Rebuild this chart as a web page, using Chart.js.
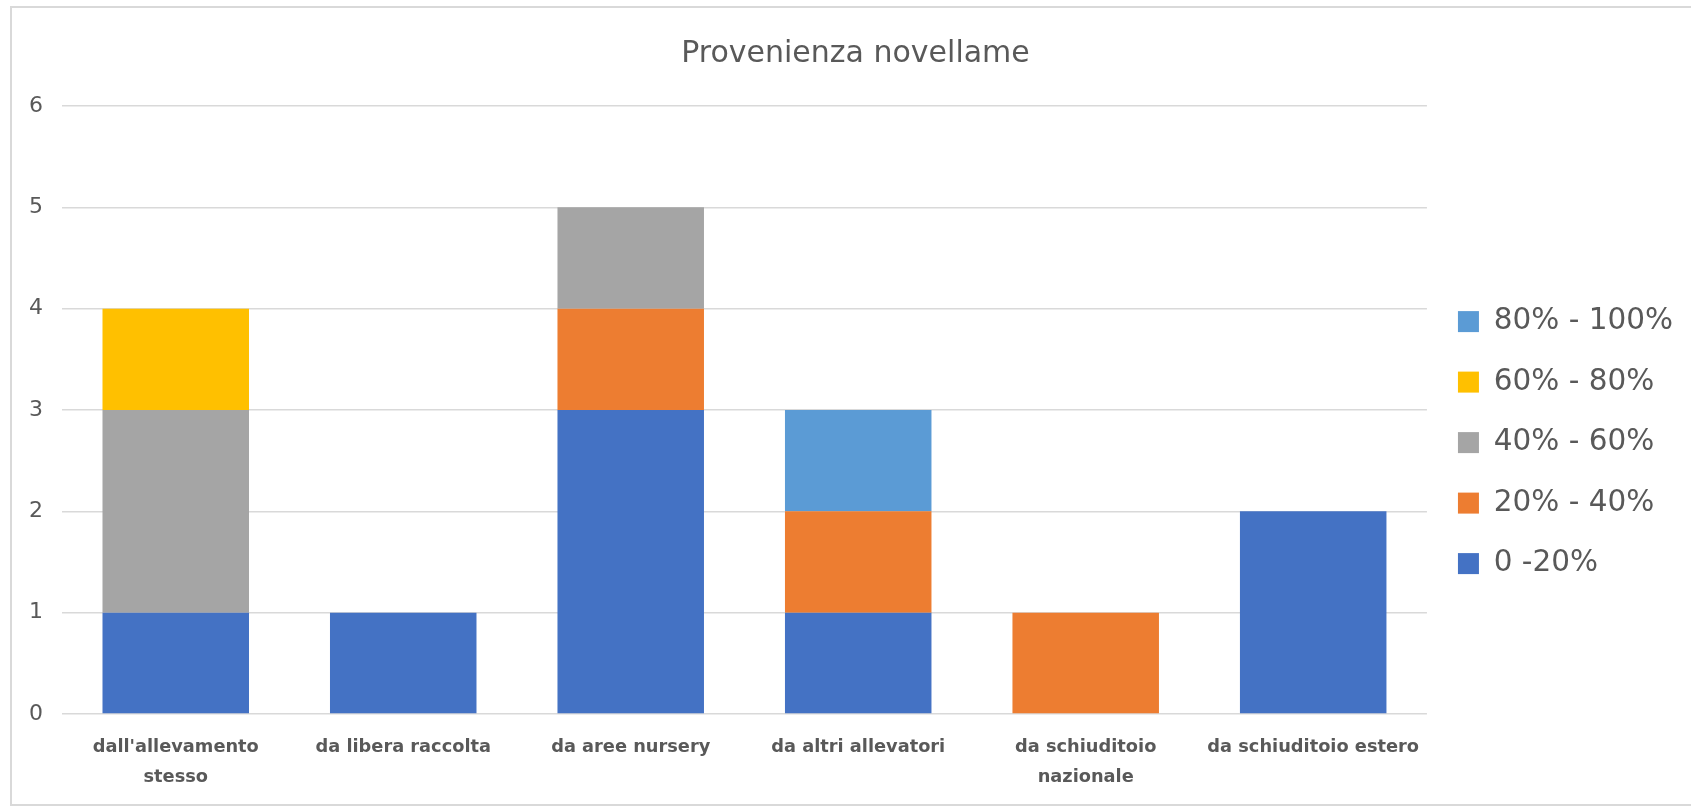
<!DOCTYPE html>
<html>
<head>
<meta charset="utf-8">
<script src="https://cdn.jsdelivr.net/npm/chart.js@4/dist/chart.umd.min.js"></script>
<style>
  html, body { margin: 0; padding: 0; background: #fff; overflow: hidden; }
  #frame {
    position: absolute; left: 10px; top: 6px; width: 1681px; height: 800px;
    border: 2px solid #d9d9d9; border-right: none; box-sizing: border-box;
  }
  #wrap { position: absolute; left: 0; top: 0; width: 1691px; height: 807px; }
</style>
</head>
<body>
<div id="frame"></div>
<div id="wrap"><canvas id="novChart"></canvas></div>
<script>
// categorie (asse x)
const categories = [
  ["dall'allevamento", "stesso"],
  "da libera raccolta",
  "da aree nursery",
  "da altri allevatori",
  ["da schiuditoio", "nazionale"],
  "da schiuditoio estero"
];

// serie (fasce percentuali)
const serie0_20 = [1, 1, 3, 1, 0, 2];
const serie20_40 = [0, 0, 1, 1, 1, 0];
const serie40_60 = [2, 0, 1, 0, 0, 0];
const serie60_80 = [1, 0, 0, 0, 0, 0];
const serie80_100 = [0, 0, 0, 1, 0, 0];

const seriesNames = ["0 -20%", "20% - 40%", "40% - 60%", "60% - 80%", "80% - 100%"];
const seriesColors = ["#4472C4", "#ED7D31", "#A5A5A5", "#FFC000", "#5B9BD5"];
const yTicks = [0, 1, 2, 3, 4, 5, 6];

const FONT = "'DejaVu Sans', Verdana, sans-serif";
const TXT = "#595959";

const allSeries = [serie0_20, serie20_40, serie40_60, serie60_80, serie80_100];

new Chart(document.getElementById("novChart"), {
  type: "bar",
  data: {
    labels: categories,
    datasets: allSeries.map((vals, i) => ({
      label: seriesNames[i],
      data: vals,
      backgroundColor: seriesColors[i],
      borderWidth: 0,
      barPercentage: 0.644,
      categoryPercentage: 1
    }))
  },
  options: {
    responsive: true,
    maintainAspectRatio: false,
    animation: false,
    layout: { padding: { left: 28, right: 8, top: 0, bottom: 0 } },
    plugins: {
      title: {
        display: true,
        text: "Provenienza novellame",
        color: TXT,
        font: { family: FONT, size: 30, weight: "normal", lineHeight: 1.2 },
        padding: { top: 36, bottom: 34 }
      },
      legend: {
        position: "right",
        reverse: true,
        // titolo vuoto: serve solo a spostare le voci verso il basso
        title: { display: true, text: " ", font: { size: 1 }, padding: { top: 77, bottom: 0 } },
        labels: {
          color: TXT,
          font: { family: FONT, size: 29.5 },
          boxWidth: 21,
          boxHeight: 21,
          padding: 31
        }
      },
      tooltip: { enabled: false }
    },
    scales: {
      x: {
        stacked: true,
        grid: { display: false },
        border: { display: false },
        ticks: {
          color: TXT,
          font: { family: FONT, size: 17.8, weight: "bold", lineHeight: 30 / 17.8 },
          maxRotation: 0,
          autoSkip: false,
          padding: 10
        },
        afterFit: (scale) => { scale.height = 93; }
      },
      y: {
        stacked: true,
        min: 0,
        max: 6,
        afterBuildTicks: (scale) => { scale.ticks = yTicks.map(v => ({ value: v })); },
        grid: { color: "#d9d9d9", lineWidth: 1.5, drawTicks: false },
        border: { display: false },
        ticks: {
          color: TXT,
          font: { family: FONT, size: 22 },
          padding: 19
        },
        afterFit: (scale) => { scale.width = 34; }
      }
    }
  }
});
</script>
</body>
</html>
